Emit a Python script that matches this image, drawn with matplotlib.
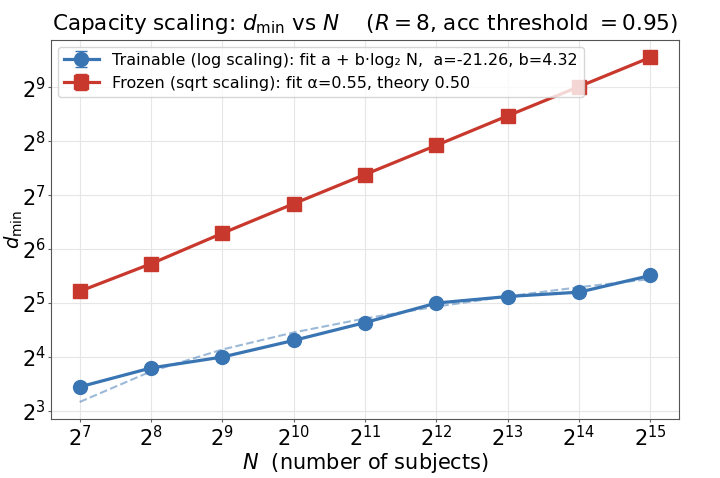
import matplotlib
matplotlib.use("Agg")
import matplotlib.pyplot as plt
import numpy as np

# subjects N (as powers of two)
n_subjects = [2**7, 2**8, 2**9, 2**10, 2**11, 2**12, 2**13, 2**14, 2**15]

# minimum embedding dim reaching acc >= 0.95
trainable_dmin = [10.9, 13.9, 16.0, 19.8, 24.9, 32.0, 34.8, 36.8, 45.6]
trainable_err = [0, 0, 0, 0, 0, 0, 0, 0, 0]
frozen_dmin = [37.2, 53.0, 78.4, 114.6, 166.8, 242.7, 354.6, 516.0, 751.0]
frozen_err = [0, 0, 0, 0, 0, 0, 0, 0, 0]

# fitted log-scaling curve a + b*log2(N), a=-21.26, b=4.32, at each N
trainable_fit = [8.98, 13.30, 17.62, 21.94, 26.26, 30.58, 34.90, 39.22, 43.54]

blue = "#3a75b3"
red = "#c9382d"

fig = plt.figure(figsize=(7.2, 4.78), dpi=100)
ax = fig.add_axes([0.071, 0.123, 0.872, 0.793])

ax.errorbar(n_subjects, trainable_dmin, yerr=trainable_err, color=blue, marker="o",
            markersize=10, linewidth=2.3, capsize=4,
            label="Trainable (log scaling): fit a + b\u00b7log\u2082 N,  a=-21.26, b=4.32")
ax.plot(n_subjects, trainable_fit, "--", color=blue, alpha=0.5, linewidth=1.5)
ax.errorbar(n_subjects, frozen_dmin, yerr=frozen_err, color=red, marker="s",
            markersize=10, linewidth=2.3, capsize=4,
            label="Frozen (sqrt scaling): fit \u03b1=0.55, theory 0.50")

ax.set_xscale("log", base=2)
ax.set_yscale("log", base=2)
ax.set_xticks(n_subjects)
ax.set_yticks([2**3, 2**4, 2**5, 2**6, 2**7, 2**8, 2**9])
ax.minorticks_off()
ax.tick_params(labelsize=15, length=2, pad=2, color="#666666")
ax.grid(True, color="#e6e6e6", linewidth=0.8)
for s in ax.spines.values():
    s.set_color("#555555")

ax.set_xlabel(r"$N$  (number of subjects)", fontsize=15, labelpad=1)
ax.set_ylabel(r"$d_{\min}$", fontsize=14)
ax.yaxis.set_label_coords(-0.042, 0.5)
ax.set_title(r"Capacity scaling: $d_{\min}$ vs $N$    ($R=8$, acc threshold $=0.95$)",
             fontsize=15.5, pad=7)
ax.legend(loc="upper left", fontsize=11.5, handlelength=2.2, borderaxespad=0.4)

fig.savefig("out.png", dpi=100)
